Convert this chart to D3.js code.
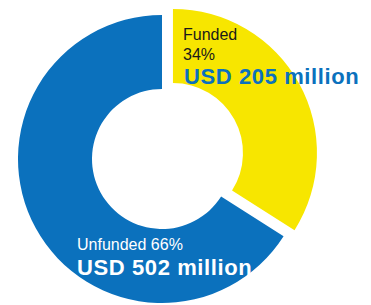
<!DOCTYPE html>
<html>
<head>
<meta charset="utf-8">
<script src="https://cdn.jsdelivr.net/npm/d3@7"></script>
<style>
  html, body { margin: 0; padding: 0; background: #fff; }
  svg { display: block; }
</style>
</head>
<body>
<div id="chart"></div>
<script>
var categories = ['Funded', 'Unfunded'];
var shares = [34, 66];
var amounts = ['USD 205 million', 'USD 502 million'];
var colors = ['#f7e600', '#0b71bd'];

var width = 371, height = 305;
var cx = 162, cy = 159;
var outer = 144, inner = 70;
var explode = 12.5;

var svg = d3.select('#chart')
	.append('svg')
	.attr('width', width)
	.attr('height', height);

var pie = d3.pie().sort(null).value(function(d) { return d; });
var arc = d3.arc().innerRadius(inner).outerRadius(outer);

var arcs = pie(shares);

var g = svg.append('g').attr('transform', 'translate(' + cx + ',' + cy + ')');

g.selectAll('path')
	.data(arcs)
	.enter()
	.append('path')
	.attr('d', arc)
	.attr('fill', function(d, i) { return colors[i]; })
	.attr('transform', function(d, i) {
		// only the funded slice is pulled out
		if (i !== 0) return null;
		var mid = (d.startAngle + d.endAngle) / 2;
		return 'translate(' + (Math.sin(mid) * explode) + ',' + (-Math.cos(mid) * explode) + ')';
	});

// labels
var font = 'Liberation Sans, Arial, Helvetica, sans-serif';

svg.append('text')
	.attr('x', 183).attr('y', 40)
	.attr('font-family', font).attr('font-size', 16)
	.attr('fill', '#1a1a1a')
	.text(categories[0]);

svg.append('text')
	.attr('x', 183).attr('y', 60)
	.attr('font-family', font).attr('font-size', 16)
	.attr('fill', '#1a1a1a')
	.text(shares[0] + '%');

svg.append('text')
	.attr('x', 184).attr('y', 84)
	.attr('font-family', font).attr('font-size', 22)
	.attr('font-weight', 'bold')
	.attr('letter-spacing', 0.6)
	.attr('fill', colors[1])
	.text(amounts[0]);

svg.append('text')
	.attr('x', 77).attr('y', 250)
	.attr('font-family', font).attr('font-size', 16)
	.attr('fill', '#fff')
	.text(categories[1] + ' ' + shares[1] + '%');

svg.append('text')
	.attr('x', 77).attr('y', 275)
	.attr('font-family', font).attr('font-size', 22)
	.attr('font-weight', 'bold')
	.attr('letter-spacing', 0.6)
	.attr('fill', '#fff')
	.text(amounts[1]);
</script>
</body>
</html>
